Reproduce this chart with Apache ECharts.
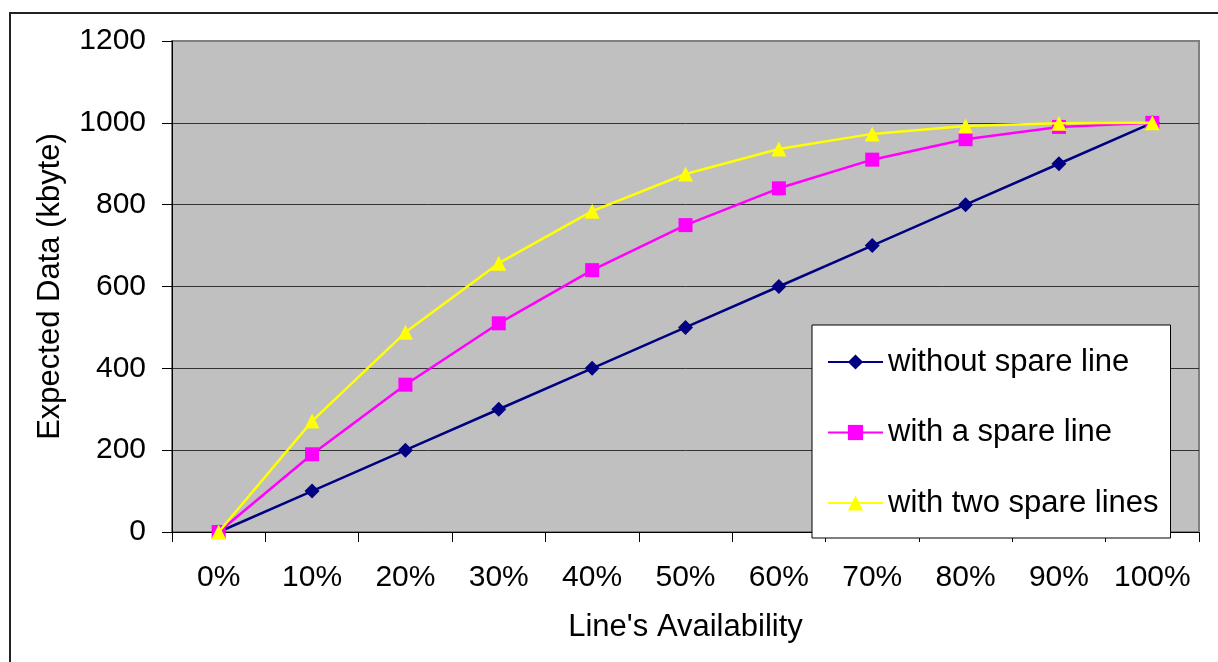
<!DOCTYPE html>
<html>
<head>
<meta charset="utf-8">
<script src="https://cdn.jsdelivr.net/npm/echarts@6/dist/echarts.min.js"></script>
<style>
  html, body { margin: 0; padding: 0; background: #fff; }
  #chart { width: 1218px; height: 662px; }
</style>
</head>
<body>
<div id="chart"></div>
<script>
// Line availability on the x axis, expected data volume in kbyte on the y axis
const categories = ['0%', '10%', '20%', '30%', '40%', '50%', '60%', '70%', '80%', '90%', '100%'];
const withoutSpare = [0, 100, 200, 300, 400, 500, 600, 700, 800, 900, 1000];
const withOneSpare = [0, 190, 360, 510, 640, 750, 840, 910, 960, 990, 1000];
const withTwoSpare = [0, 271, 488, 657, 784, 875, 936, 973, 992, 999, 1000];
const seriesNames = ['without spare line', 'with a spare line', 'with two spare lines'];

const FONT = '"Liberation Sans", Arial, sans-serif';

const chart = echarts.init(document.getElementById('chart'), null, { renderer: 'canvas' });

chart.setOption({
  backgroundColor: '#ffffff',
  animation: false,
  textStyle: { fontFamily: FONT, color: '#000' },
  graphic: [{
    type: 'rect',
    shape: { x: 10, y: 13, width: 1300, height: 800 },
    style: { fill: 'none', stroke: '#222', lineWidth: 2 },
    z: 100
  }],
  grid: {
    left: 172, right: 19, top: 41, bottom: 130,
    show: true,
    backgroundColor: '#c0c0c0',
    borderColor: '#808080',
    borderWidth: 2,
    containLabel: false,
    outerBoundsMode: 'none'
  },
  legend: {
    orient: 'vertical',
    left: 812, top: 325,
    padding: [21, 12, 19, 15],
    itemGap: 38.5,
    itemWidth: 55,
    itemHeight: 19,
    backgroundColor: '#ffffff',
    borderColor: '#000',
    borderWidth: 1,
    selectedMode: false,
    data: seriesNames,
    textStyle: { fontSize: 31, lineHeight: 32, color: '#000', fontFamily: FONT }
  },
  xAxis: {
    type: 'category',
    data: categories,
    boundaryGap: true,
    name: "Line's Availability",
    nameLocation: 'middle',
    nameGap: 80,
    nameTextStyle: { fontSize: 31, color: '#000', fontFamily: FONT },
    axisLine: { lineStyle: { color: '#000', width: 1 } },
    axisTick: { show: true, alignWithLabel: false, length: 10, lineStyle: { color: '#000' } },
    axisLabel: { fontSize: 30, lineHeight: 30, margin: 31, color: '#000', interval: 0 },
    splitLine: { show: false }
  },
  yAxis: {
    type: 'value',
    min: 0, max: 1200, interval: 200,
    name: 'Expected Data (kbyte)',
    nameLocation: 'middle',
    nameGap: 106,
    nameTextStyle: { fontSize: 31, color: '#000', fontFamily: FONT },
    axisLine: { show: true, lineStyle: { color: '#000', width: 1 } },
    axisTick: { show: true, length: 10, lineStyle: { color: '#000' } },
    axisLabel: { fontSize: 30, margin: 26, color: '#000', formatter: (v) => String(v) },
    splitLine: {
      show: true,
      lineStyle: { color: ['#000', '#333', '#333', '#333', '#333', '#333', '#808080'], width: 1 }
    }
  },
  series: [
    {
      name: seriesNames[0], type: 'line', data: withoutSpare,
      symbol: 'diamond', symbolSize: 15,
      lineStyle: { color: '#000080', width: 2.5 },
      itemStyle: { color: '#000080' },
      z: 2
    },
    {
      name: seriesNames[1], type: 'line', data: withOneSpare,
      symbol: 'rect', symbolSize: 14,
      lineStyle: { color: '#ff00ff', width: 2.5 },
      itemStyle: { color: '#ff00ff' },
      z: 3
    },
    {
      name: seriesNames[2], type: 'line', data: withTwoSpare,
      symbol: 'triangle', symbolSize: 15,
      lineStyle: { color: '#ffff00', width: 2.5 },
      itemStyle: { color: '#ffff00' },
      z: 4
    }
  ]
});
</script>
</body>
</html>
